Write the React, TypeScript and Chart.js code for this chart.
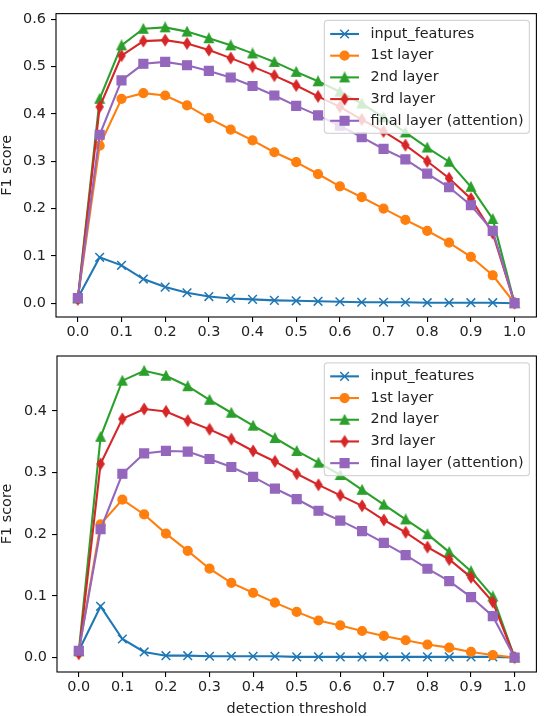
import { useEffect, useRef } from 'react';
import { Chart, registerables } from 'chart.js';
import { drawPoint } from 'chart.js/helpers';

Chart.register(...registerables);

// detection thresholds (x values) and axis ticks
const thresholds = [0, 0.05, 0.1, 0.15, 0.2, 0.25, 0.3, 0.35, 0.4, 0.45, 0.5, 0.55, 0.6, 0.65, 0.7, 0.75, 0.8, 0.85, 0.9, 0.95, 1.0];
const xTicks = [0, 0.1, 0.2, 0.3, 0.4, 0.5, 0.6, 0.7, 0.8, 0.9, 1.0];
const topYTicks = [0, 0.1, 0.2, 0.3, 0.4, 0.5, 0.6];
const bottomYTicks = [0, 0.1, 0.2, 0.3, 0.4];

const seriesNames = ['input_features', '1st layer', '2nd layer', '3rd layer', 'final layer (attention)'];

// upper panel
const topInput = [0.011, 0.097, 0.080, 0.051, 0.034, 0.022, 0.014, 0.010, 0.008, 0.006, 0.005, 0.004, 0.003, 0.002, 0.002, 0.002, 0.001, 0.001, 0.001, 0.001, 0];
const topFirst = [0.010, 0.333, 0.432, 0.444, 0.439, 0.418, 0.391, 0.367, 0.344, 0.319, 0.298, 0.273, 0.247, 0.224, 0.200, 0.176, 0.153, 0.128, 0.098, 0.059, 0];
const topSecond = [0.010, 0.432, 0.545, 0.580, 0.583, 0.574, 0.560, 0.545, 0.528, 0.510, 0.489, 0.469, 0.447, 0.422, 0.393, 0.361, 0.329, 0.299, 0.246, 0.178, 0];
const topThird = [0.008, 0.415, 0.523, 0.554, 0.556, 0.549, 0.535, 0.518, 0.500, 0.481, 0.460, 0.437, 0.415, 0.388, 0.363, 0.334, 0.300, 0.264, 0.221, 0.148, 0];
const topFinal = [0.011, 0.356, 0.471, 0.506, 0.510, 0.503, 0.491, 0.477, 0.459, 0.439, 0.417, 0.397, 0.375, 0.351, 0.326, 0.304, 0.274, 0.245, 0.207, 0.153, 0];

// lower panel
const bottomInput = [0.011, 0.083, 0.030, 0.009, 0.003, 0.003, 0.002, 0.002, 0.002, 0.002, 0.001, 0.001, 0.001, 0.001, 0.001, 0.001, 0.001, 0.001, 0.001, 0.001, 0];
const bottomFirst = [0.010, 0.216, 0.256, 0.232, 0.201, 0.173, 0.144, 0.121, 0.105, 0.089, 0.074, 0.060, 0.052, 0.043, 0.035, 0.028, 0.021, 0.016, 0.009, 0.004, 0];
const bottomSecond = [0.010, 0.358, 0.449, 0.465, 0.457, 0.440, 0.418, 0.397, 0.376, 0.356, 0.335, 0.316, 0.296, 0.272, 0.248, 0.224, 0.200, 0.171, 0.140, 0.099, 0];
const bottomThird = [0.006, 0.314, 0.387, 0.403, 0.399, 0.384, 0.370, 0.354, 0.335, 0.318, 0.298, 0.280, 0.263, 0.246, 0.223, 0.203, 0.179, 0.159, 0.130, 0.090, 0];
const bottomFinal = [0.011, 0.208, 0.298, 0.331, 0.335, 0.334, 0.322, 0.309, 0.293, 0.274, 0.257, 0.238, 0.222, 0.205, 0.186, 0.166, 0.144, 0.124, 0.098, 0.067, 0];

const colors = ['#1f77b4', '#ff7f0e', '#2ca02c', '#d62728', '#9467bd'];
const FONT = 'DejaVu Sans';
const FS = 14.4;
const TEXT = '#222';

// small canvases for the matplotlib triangle / thin diamond markers
function markerCanvas(color: string, w: number, h: number, pts: number[][]) {
  const c = document.createElement('canvas');
  c.width = w;
  c.height = h;
  const ctx = c.getContext('2d')!;
  ctx.translate(w / 2, h / 2);
  ctx.beginPath();
  pts.forEach(([x, y], i) => (i ? ctx.lineTo(x, y) : ctx.moveTo(x, y)));
  ctx.closePath();
  ctx.fillStyle = color;
  ctx.strokeStyle = color;
  ctx.lineWidth = 1.4;
  ctx.fill();
  ctx.stroke();
  return c;
}

function seriesStyles() {
  const tri = markerCanvas(colors[2], 12, 12, [[0, -4.4], [4.4, 4.4], [-4.4, 4.4]]);
  const dia = markerCanvas(colors[3], 10, 14, [[0, -5.3], [3.4, 0], [0, 5.3], [-3.4, 0]]);
  return [
    { pointStyle: 'crossRot', pointRadius: 6.1, pointBorderWidth: 1.5 },
    { pointStyle: 'circle', pointRadius: 4.4, pointBorderWidth: 1.4 },
    { pointStyle: tri, pointRadius: 6, pointBorderWidth: 0 },
    { pointStyle: dia, pointRadius: 6, pointBorderWidth: 0 },
    { pointStyle: 'rect', pointRadius: 6.2, pointBorderWidth: 1.4 },
  ];
}

// full box around the axes, like matplotlib spines
const framePlugin = {
  id: 'frame',
  afterDatasetsDraw(chart: any) {
    const { ctx, chartArea: a } = chart;
    ctx.save();
    ctx.strokeStyle = '#000';
    ctx.lineWidth = 1.1;
    ctx.strokeRect(a.left, a.top, a.right - a.left, a.bottom - a.top);
    ctx.restore();
  },
};

// legend in the upper right corner, inside the axes
const legendPlugin = {
  id: 'mplLegend',
  afterDraw(chart: any) {
    const { ctx, chartArea } = chart;
    const items = chart.data.datasets;
    ctx.save();
    ctx.font = `${FS}px "${FONT}"`;
    const textW = Math.max(...items.map((d: any) => ctx.measureText(d.label).width));
    const pad = 5.8, handle = 28.8, gap = 11.5, rowH = 14.5, spacing = 7.2;
    const w = pad * 2 + handle + gap + textW;
    const h = pad * 2 + items.length * rowH + (items.length - 1) * spacing;
    const x = chartArea.right - 7 - w;
    const y = chartArea.top + 6.8;
    ctx.beginPath();
    ctx.roundRect(x, y, w, h, 3);
    ctx.fillStyle = 'rgba(255,255,255,0.8)';
    ctx.fill();
    ctx.strokeStyle = 'rgba(204,204,204,0.8)';
    ctx.lineWidth = 1.2;
    ctx.stroke();
    items.forEach((d: any, i: number) => {
      const cy = y + pad + i * (rowH + spacing) + rowH / 2 + 0.5;
      const hx = x + pad;
      ctx.strokeStyle = d.borderColor;
      ctx.lineWidth = d.borderWidth;
      ctx.beginPath();
      ctx.moveTo(hx, cy);
      ctx.lineTo(hx + handle, cy);
      ctx.stroke();
      ctx.fillStyle = d.pointBackgroundColor;
      ctx.strokeStyle = d.pointBorderColor;
      ctx.lineWidth = d.pointBorderWidth;
      drawPoint(ctx, { pointStyle: d.pointStyle, radius: d.pointRadius, borderWidth: d.pointBorderWidth, rotation: 0 } as any, hx + handle / 2, cy);
      ctx.fillStyle = TEXT;
      ctx.textBaseline = 'middle';
      ctx.textAlign = 'left';
      ctx.fillText(d.label, hx + handle + gap, cy);
    });
    ctx.restore();
  },
};

interface PanelProps {
  series: number[][];
  yMin: number;
  yMax: number;
  yTicks: number[];
  height: number;
  yAxisWidth: number;
  xAxisHeight: number;
  padTop: number;
  padRight: number;
  xTitle?: string;
}

const Panel = ({ series, yMin, yMax, yTicks, height, yAxisWidth, xAxisHeight, padTop, padRight, xTitle }: PanelProps) => {
  const canvasRef = useRef<HTMLCanvasElement>(null);

  useEffect(() => {
    if (!canvasRef.current) return;
    const styles = seriesStyles();
    const tickFont = { family: FONT, size: FS };

    const chart = new Chart(canvasRef.current, {
      type: 'line',
      data: {
        datasets: series.map((vals, i) => ({
          label: seriesNames[i],
          data: thresholds.map((x, j) => ({ x, y: vals[j] })),
          borderColor: colors[i],
          backgroundColor: colors[i],
          pointBackgroundColor: colors[i],
          pointBorderColor: colors[i],
          borderWidth: 2.1,
          tension: 0,
          order: series.length - 1 - i,
          ...styles[i],
          pointHoverRadius: styles[i].pointRadius,
        })),
      },
      options: {
        responsive: false,
        animation: false,
        events: [],
        layout: { padding: { top: padTop, right: padRight, left: 0, bottom: 0 } },
        plugins: { legend: { display: false }, tooltip: { enabled: false } },
        scales: {
          x: {
            type: 'linear',
            min: -0.05,
            max: 1.05,
            afterBuildTicks: (s: any) => { s.ticks = xTicks.map((v) => ({ value: v })); },
            afterFit: (s: any) => { s.height = xAxisHeight; },
            grid: { drawOnChartArea: false, drawTicks: true, tickLength: 5, color: '#000', lineWidth: 1.1 },
            border: { display: false },
            ticks: { font: tickFont, color: TEXT, padding: 2, maxRotation: 0, autoSkip: false, callback: (v: any) => Number(v).toFixed(1) },
            title: xTitle
              ? { display: true, text: xTitle, color: TEXT, font: { family: FONT, size: FS, lineHeight: 0.9 }, padding: 0 }
              : { display: false },
          },
          y: {
            type: 'linear',
            min: yMin,
            max: yMax,
            afterBuildTicks: (s: any) => { s.ticks = yTicks.map((v) => ({ value: v })); },
            afterFit: (s: any) => { s.width = yAxisWidth; },
            grid: { drawOnChartArea: false, drawTicks: true, tickLength: 5, color: '#000', lineWidth: 1.1 },
            border: { display: false },
            ticks: { font: tickFont, color: TEXT, padding: 5, callback: (v: any) => Number(v).toFixed(1) },
            title: { display: true, text: 'F1 score', color: TEXT, font: { family: FONT, size: FS, lineHeight: 1 }, padding: 0 },
          },
        },
      },
      plugins: [framePlugin, legendPlugin],
    } as any);

    return () => chart.destroy();
  }, [series, yMin, yMax, yTicks, yAxisWidth, xAxisHeight, padTop, padRight, xTitle]);

  return <canvas ref={canvasRef} width={544} height={height} style={{ display: 'block' }} />;
};

const topSeries = [topInput, topFirst, topSecond, topThird, topFinal];
const bottomSeries = [bottomInput, bottomFirst, bottomSecond, bottomThird, bottomFinal];

export default function App() {
  return (
    <div style={{ position: 'absolute', left: 0, top: 0, width: 544, height: 716, background: '#fff' }}>
      <Panel series={topSeries} yMin={-0.0292} yMax={0.612} yTicks={topYTicks}
        height={340} yAxisWidth={56} xAxisHeight={23} padTop={1.5} padRight={4} />
      <Panel series={bottomSeries} yMin={-0.0235} yMax={0.489} yTicks={bottomYTicks}
        height={376} yAxisWidth={57} xAxisHeight={44} padTop={16} padRight={2.5} xTitle="detection threshold" />
    </div>
  );
}
